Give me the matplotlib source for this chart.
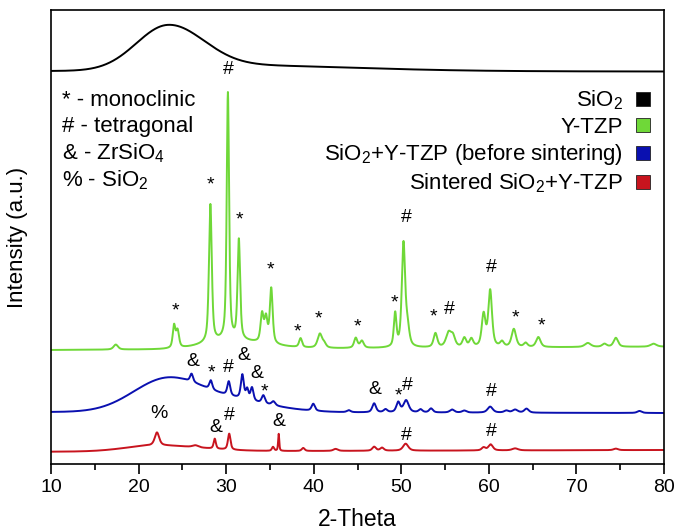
import numpy as np
import matplotlib
matplotlib.use("Agg")
import matplotlib.pyplot as plt
from matplotlib.lines import Line2D

plt.rcParams["font.family"] = ["Liberation Sans", "DejaVu Sans"]
plt.rcParams["mathtext.fontset"] = "custom"
plt.rcParams["mathtext.rm"] = "Liberation Sans"
plt.rcParams["mathtext.it"] = "Liberation Sans"

# --- peak tables (2-theta deg, height in a.u., fwhm deg) ---
# intensity units: arbitrary, offset stacking already included in baselines

SIO2_BASE = (393.0, 392.5)                     # baseline at 10 deg, 80 deg
SIO2_HUMP_POS = [23.3, 30.0]
SIO2_HUMP_H = [43.0, 6.0]
SIO2_HUMP_SL = [3.6, 6.0]
SIO2_HUMP_SR = [4.0, 14.0]

YTZP_BASE = (114.0, 117.3)
YTZP_HUMP_POS = [30.5]
YTZP_HUMP_H = [8.0]
YTZP_HUMP_SL = [3.0]
YTZP_HUMP_SR = [4.0]
YTZP_POS = [17.4, 24.05, 24.45, 28.2, 30.2, 31.45, 34.1, 34.55, 35.15, 38.5,
            40.7, 41.2, 44.8, 45.5, 49.3, 50.25, 50.7, 53.9, 55.4, 55.9,
            57.2, 58.0, 59.4, 60.15, 61.5, 62.85, 64.2, 65.65, 71.3, 73.2,
            74.5, 78.8]
YTZP_H = [5, 22, 17, 138, 247, 100, 28, 24, 55, 9,
          14, 4, 10, 7, 33, 103, 18, 14, 14, 10,
          9, 8, 32, 56, 5, 18, 4, 10, 4, 3,
          9, 3]
YTZP_W = [0.6, 0.35, 0.4, 0.38, 0.32, 0.35, 0.4, 0.4, 0.38, 0.4,
          0.6, 0.5, 0.45, 0.5, 0.35, 0.45, 0.5, 0.5, 0.7, 0.6,
          0.5, 0.5, 0.5, 0.5, 0.5, 0.6, 0.5, 0.6, 0.8, 0.6,
          0.6, 0.8]

MIX_BASE = (52.0, 51.0)
MIX_HUMP_POS = [23.0, 30.0]
MIX_HUMP_H = [30.0, 12.0]
MIX_HUMP_SL = [3.8, 5.0]
MIX_HUMP_SR = [3.8, 5.0]
MIX_POS = [26.05, 28.25, 30.3, 31.85, 32.4, 32.95, 34.25, 35.4, 39.95, 44.0,
           46.9, 48.2, 49.65, 50.55, 52.2, 53.4, 55.8, 57.2, 60.15, 62.0,
           63.0, 64.3, 77.2]
MIX_H = [8, 9, 14, 24, 10, 13, 8, 4, 7, 2,
         9, 3, 10, 12, 3, 4, 3, 2, 6, 2,
         3, 4, 2]
MIX_W = [0.4, 0.4, 0.4, 0.4, 0.35, 0.4, 0.45, 0.5, 0.45, 0.5,
         0.5, 0.5, 0.5, 0.7, 0.5, 0.5, 0.6, 0.6, 0.7, 0.6,
         0.7, 0.6, 0.6]

SINT_BASE = (12.3, 14.0)
SINT_HUMP_POS = [22.0]
SINT_HUMP_H = [6.0]
SINT_HUMP_SL = [3.5]
SINT_HUMP_SR = [5.0]
SINT_POS = [22.1, 26.5, 28.7, 30.35, 35.35, 36.0, 38.8, 42.5, 46.9, 47.8,
            50.5, 59.4, 60.2, 63.0, 74.5]
SINT_H = [13, 2, 10, 16, 4, 17, 3, 2, 4, 3, 7, 3, 6, 2, 1.5]
SINT_W = [0.6, 0.8, 0.3, 0.35, 0.3, 0.15, 0.4, 0.6, 0.5, 0.5,
          0.7, 0.5, 0.6, 0.8, 0.6]

# phase markers: symbol, 2-theta, height
MARK_SYM = ["*", "*", "#", "*", "*", "*", "*", "*", "*", "#", "*", "#", "#", "*", "*",
            "&", "*", "#", "&", "&", "*", "&", "*", "#", "#",
            "%", "&", "#", "&", "#", "#"]
MARK_X = [24.16, 28.16, 30.21, 31.47, 35.09, 38.2, 40.49, 45.0, 49.23, 50.54,
          53.62, 55.45, 60.31, 62.99, 65.96,
          26.22, 28.27, 30.27, 32.04, 33.52, 34.39, 47.0, 49.63, 50.72, 60.25,
          22.32, 28.77, 30.33, 36.04, 50.63, 60.25]
MARK_Y = [158, 284, 395, 249, 199, 137, 150, 142, 166, 247, 152, 154, 197, 151, 143,
          102, 96, 97, 109, 90, 77, 75, 73, 78, 72,
          51, 37, 49, 43, 29, 32]

LEGEND = ["SiO$_2$", "Y-TZP", "SiO$_2$+Y-TZP (before sintering)", "Sintered SiO$_2$+Y-TZP"]
COLORS = ["#000000", "#6fd838", "#0a10b0", "#c8141e"]


def pv(x, c, h, w, eta=0.6):
    d = (x - c) / (w / 2.0)
    return h * (eta / (1 + d * d) + (1 - eta) * np.exp(-np.log(2) * d * d))


def hump(x, c, h, sl, sr):
    s = np.where(x < c, sl, sr)
    return h * np.exp(-0.5 * ((x - c) / s) ** 2)


def pattern(x, base, hpos, hh, hsl, hsr, pos=(), hts=(), wds=()):
    y = base[0] + (base[1] - base[0]) * (x - 10) / 70.0
    for args in zip(hpos, hh, hsl, hsr):
        y = y + hump(x, *args)
    for args in zip(pos, hts, wds):
        y = y + pv(x, *args)
    return y


x = np.linspace(10, 80, 7001)
curves = [
    pattern(x, SIO2_BASE, SIO2_HUMP_POS, SIO2_HUMP_H, SIO2_HUMP_SL, SIO2_HUMP_SR),
    pattern(x, YTZP_BASE, YTZP_HUMP_POS, YTZP_HUMP_H, YTZP_HUMP_SL, YTZP_HUMP_SR,
            YTZP_POS, YTZP_H, YTZP_W),
    pattern(x, MIX_BASE, MIX_HUMP_POS, MIX_HUMP_H, MIX_HUMP_SL, MIX_HUMP_SR,
            MIX_POS, MIX_H, MIX_W),
    pattern(x, SINT_BASE, SINT_HUMP_POS, SINT_HUMP_H, SINT_HUMP_SL, SINT_HUMP_SR,
            SINT_POS, SINT_H, SINT_W),
]

fig = plt.figure(figsize=(6.88, 5.32), dpi=100)
ax = fig.add_axes([51 / 688, 1 - 464 / 532, 613 / 688, 454.5 / 532])

for y, c in zip(curves, COLORS):
    ax.plot(x, y, color=c, lw=1.4)

for s, mx, my in zip(MARK_SYM, MARK_X, MARK_Y):
    dy = -5 if s == "*" else 0
    ax.text(mx, my + dy, s, ha="center", va="center", fontsize=14)

ax.set_xlim(10, 80)
ax.set_ylim(0, 454.5)
ax.set_yticks([])
ax.set_xticks(range(10, 81, 10))
ax.set_xticks(range(15, 80, 10), minor=True)
ax.tick_params(axis="x", which="major", direction="out", length=7, width=1.2,
               labelsize=14, pad=4)
ax.tick_params(axis="x", which="minor", direction="out", length=4, width=1.2)
for sp in ax.spines.values():
    sp.set_linewidth(1.2)

notes = ["* - monoclinic", "# - tetragonal", "& - ZrSiO$_4$", "% - SiO$_2$"]
for i, t in enumerate(notes):
    ax.text(0.018, (464 - 100 - 26.7 * i) / 454.5, t, transform=ax.transAxes,
            ha="left", va="center", fontsize=16)

handles = [Line2D([], [], ls="none", marker="s", markersize=10, mfc=c, mec="#222222",
                  mew=0.6) for c in COLORS]
ax.legend(handles, LEGEND, loc="upper right", bbox_to_anchor=(0.995, 0.845),
          frameon=False, markerfirst=False, fontsize=16, handlelength=0.8,
          handletextpad=0.5, labelspacing=0.2, borderaxespad=0)

fig.text(18 / 688, 1 - 237 / 532, "Intensity (a.u.)", rotation=90, ha="center",
         va="center", fontsize=16)
fig.text(357.5 / 688, 1 - 519 / 532, "2-Theta", ha="center", va="center", fontsize=16.5)

fig.savefig("out.png", dpi=100)
